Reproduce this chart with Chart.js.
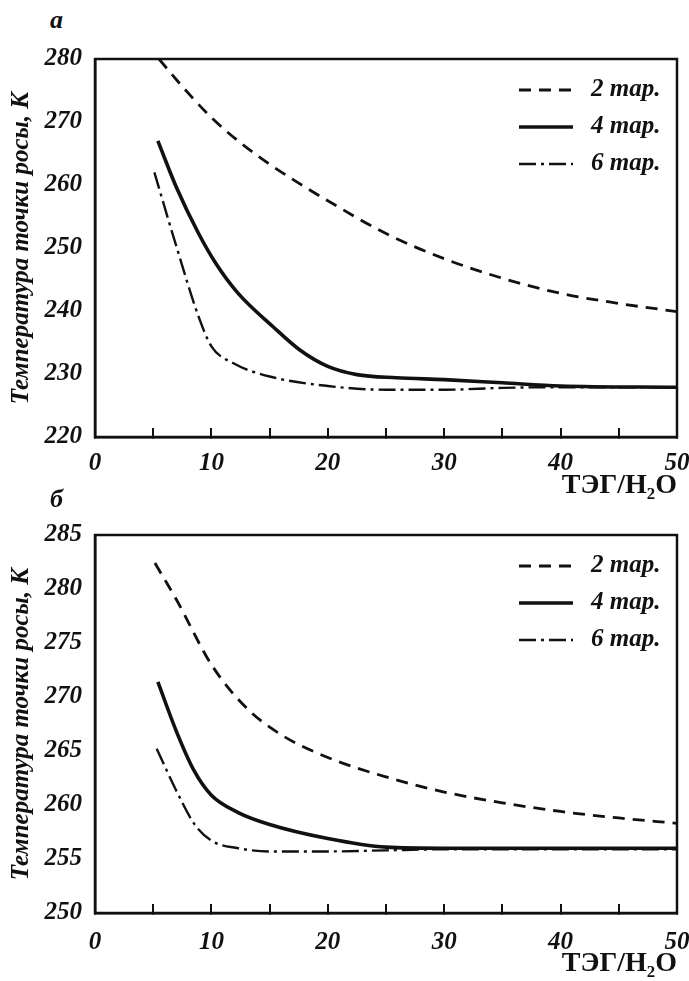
<!DOCTYPE html>
<html lang="ru">
<head>
<meta charset="utf-8">
<title>Температура точки росы</title>
<script src="https://cdn.jsdelivr.net/npm/chart.js@4"></script>
<style>
    body { margin: 0; width: 689px; height: 981px; background: #fff; position: relative; overflow: hidden; }
    .panel { position: absolute; left: 0; width: 689px; }
    .tag { position: absolute; font: italic bold 26px "Liberation Serif", serif; color: #111; line-height: 26px; }
</style>
</head>
<body>
<span class="tag" style="left:50px; top:7px;">а</span>
<div class="panel" style="top:0; height:500px;"><canvas id="chartA"></canvas></div>
<span class="tag" style="left:50px; top:486px;">б</span>
<div class="panel" style="top:500px; height:481px;"><canvas id="chartB"></canvas></div>
<script>
// ---- data ----
const seriesNames = ['2 тар.', '4 тар.', '6 тар.'];

// panel а
const a2x = [5.5, 7, 10, 12.5, 15, 17.5, 20, 25, 30, 35, 40, 45, 50];
const a2y = [280, 276.7, 270.7, 266.7, 263.3, 260.3, 257.5, 252.3, 248.3, 245.2, 242.8, 241.2, 239.9];
const a4x = [5.4, 7, 8.9, 10.4, 12.3, 15.3, 17.6, 20, 22.5, 25.9, 30, 35, 40, 50];
const a4y = [267, 259.6, 252.3, 247.5, 242.8, 237.5, 233.8, 231.2, 229.9, 229.4, 229.1, 228.6, 228.1, 227.9];
const a6x = [5.1, 7, 8.9, 10, 11.9, 15, 20, 25, 30, 35, 40, 50];
const a6y = [262, 250.2, 239.1, 234.4, 231.7, 229.6, 228.1, 227.5, 227.5, 227.8, 227.9, 227.9];

// panel б
const b2x = [5.15, 7, 10, 13, 16, 20, 25, 30, 35, 40, 45, 50];
const b2y = [282.4, 279.0, 273.0, 269.0, 266.5, 264.4, 262.6, 261.2, 260.2, 259.4, 258.8, 258.3];
const b4x = [5.4, 7, 8.5, 10, 12.3, 15, 20, 25, 30, 40, 50];
const b4y = [271.4, 266.8, 263.2, 260.9, 259.3, 258.2, 256.9, 256.1, 256.0, 256.0, 256.0];
const b6x = [5.3, 7, 8.5, 10, 12.3, 15, 20, 25, 30, 50];
const b6y = [265.2, 261.3, 258.3, 256.7, 256.0, 255.7, 255.7, 255.8, 255.9, 255.9];

const xTicksStep = 5;   // marks every 5, labels every 10
const yRangeA = [220, 280, 10];
const yRangeB = [250, 285, 5];

const INK = '#111';
const tickFont = { family: '"Liberation Serif", serif', size: 25, style: 'italic', weight: 'bold' };

const lineStyles = [
    { borderDash: [12, 8], borderWidth: 2.8 },
    { borderDash: [], borderWidth: 3.6 },
    { borderDash: [17, 5, 3, 5], borderWidth: 2.4 },
];

function pts(xs, ys) {
    return xs.map((x, i) => ({ x, y: ys[i] }));
}

// box round the plot area
const framePlugin = {
    id: 'frame',
    afterDraw(chart) {
        const { ctx, chartArea: a } = chart;
        ctx.save();
        ctx.strokeStyle = INK;
        ctx.lineWidth = 2.5;
        ctx.strokeRect(a.left, a.top, a.right - a.left, a.bottom - a.top);
        ctx.restore();
    }
};

// legend in the upper right corner, inside the frame
const legendPlugin = {
    id: 'cornerLegend',
    afterDraw(chart) {
        const { ctx, chartArea: a } = chart;
        ctx.save();
        chart.data.datasets.forEach((ds, i) => {
            const y = a.top + 31 + i * 37;
            ctx.strokeStyle = INK;
            ctx.lineWidth = ds.borderWidth;
            ctx.setLineDash(ds.borderDash);
            ctx.beginPath();
            ctx.moveTo(a.right - 158, y);
            ctx.lineTo(a.right - 104, y);
            ctx.stroke();
            ctx.setLineDash([]);
            ctx.fillStyle = INK;
            ctx.font = 'italic bold 25px "Liberation Serif", serif';
            ctx.textBaseline = 'middle';
            ctx.fillText(ds.label, a.right - 86, y);
        });
        ctx.restore();
    }
};

function makeChart(id, sets, yRange, layoutTop, xHeight, xLabelPad, titlePad) {
    const datasets = sets.map((s, i) => ({
        label: seriesNames[i],
        data: pts(s[0], s[1]),
        borderColor: INK,
        borderWidth: lineStyles[i].borderWidth,
        borderDash: lineStyles[i].borderDash,
        pointRadius: 0,
        cubicInterpolationMode: 'monotone',
        fill: false,
    }));

    return new Chart(document.getElementById(id), {
        type: 'line',
        data: { datasets },
        plugins: [framePlugin, legendPlugin],
        options: {
            responsive: true,
            maintainAspectRatio: false,
            animation: false,
            devicePixelRatio: 1,
            layout: { padding: { top: layoutTop, right: 12, left: 0, bottom: 0 } },
            plugins: { legend: { display: false }, tooltip: { enabled: false } },
            scales: {
                x: {
                    type: 'linear',
                    min: 0,
                    max: 50,
                    afterFit: s => { s.height = xHeight; s.paddingLeft = 0; s.paddingRight = 0; },
                    ticks: {
                        stepSize: xTicksStep,
                        autoSkip: false,
                        maxRotation: 0,
                        padding: xLabelPad,
                        color: INK,
                        font: tickFont,
                        callback: v => (v % 10 === 0 ? String(v) : ''),
                    },
                    grid: { drawOnChartArea: false, drawTicks: true, tickLength: -9, color: INK, lineWidth: 2 },
                    border: { display: true, color: INK, width: 2.5 },
                    title: {
                        display: true,
                        text: 'ТЭГ/H₂O',
                        align: 'end',
                        color: INK,
                        padding: { top: 0, bottom: titlePad },
                        font: { family: '"Liberation Serif", serif', size: 28, weight: 'bold', lineHeight: 1 },
                    },
                },
                y: {
                    min: yRange[0],
                    max: yRange[1],
                    afterFit: s => { s.width = 95; s.paddingTop = 0; s.paddingBottom = 0; },
                    ticks: { stepSize: yRange[2], padding: 13, color: INK, font: tickFont },
                    grid: { display: false, drawTicks: false },
                    border: { display: true, color: INK, width: 2.5 },
                    title: {
                        display: true,
                        text: 'Температура точки росы, К',
                        color: INK,
                        padding: { top: 7, bottom: 0 },
                        font: { family: '"Liberation Serif", serif', size: 25, style: 'italic', weight: 'bold' },
                    },
                },
            },
        },
    });
}

makeChart('chartA', [[a2x, a2y], [a4x, a4y], [a6x, a6y]], yRangeA, 59, 63, 21, 0);
makeChart('chartB', [[b2x, b2y], [b4x, b4y], [b6x, b6y]], yRangeB, 35, 68, 24, 3);
</script>
</body>
</html>
